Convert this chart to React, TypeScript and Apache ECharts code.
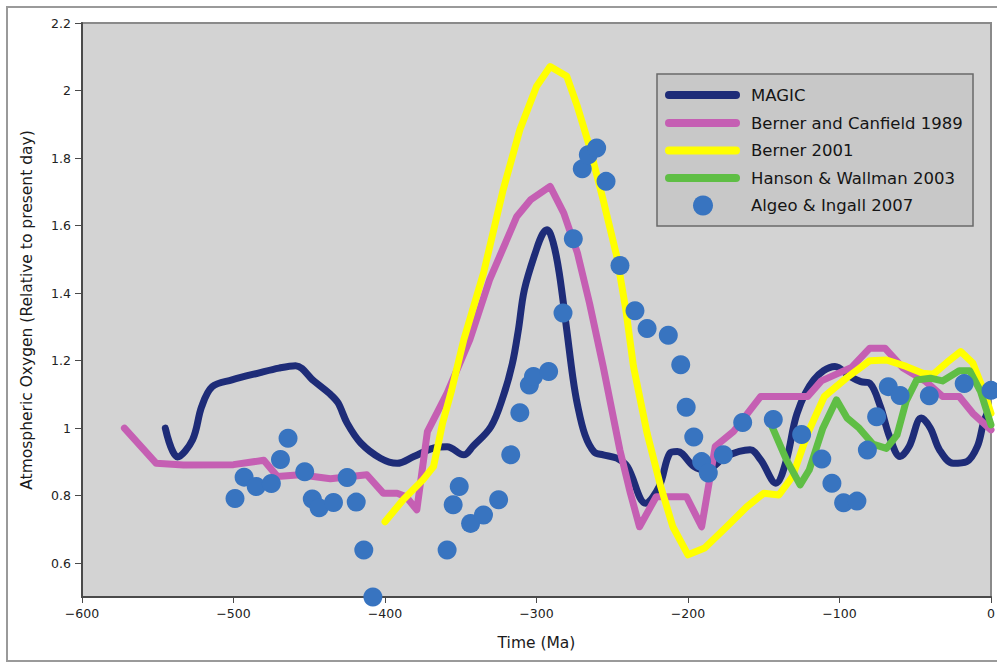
import React, { useEffect, useRef } from "react";
import * as echarts from "echarts";

const magic: [number, number][] = [
  [-545, 1.0], [-537, 0.915], [-527, 0.966], [-521, 1.064], [-514, 1.123], [-501, 1.143],
  [-483, 1.164], [-470, 1.178], [-459, 1.185], [-447, 1.14], [-436, 1.1], [-431, 1.075],
  [-425, 1.015], [-416, 0.956], [-403, 0.911], [-392, 0.896], [-381, 0.916], [-368, 0.941],
  [-359, 0.945], [-348, 0.921], [-342, 0.946], [-330, 1.005], [-322, 1.094], [-316, 1.19],
  [-312, 1.29], [-308, 1.41], [-300, 1.53], [-296, 1.575], [-293, 1.588], [-289, 1.55],
  [-285, 1.46], [-280, 1.29], [-276, 1.15], [-273, 1.07], [-268, 0.98], [-262, 0.93],
  [-256, 0.921], [-247, 0.911], [-240, 0.886], [-228, 0.778], [-219, 0.827], [-212, 0.926],
  [-207, 0.931], [-196, 0.886], [-188, 0.876], [-175, 0.916], [-159, 0.936], [-152, 0.906],
  [-142, 0.837], [-135, 0.906], [-128, 1.044], [-117, 1.143], [-103, 1.183], [-93, 1.153],
  [-86, 1.138], [-80, 1.133], [-73, 1.064], [-67, 0.975], [-60, 0.916], [-54, 0.946],
  [-46, 1.03], [-40, 1.0], [-34, 0.936], [-25, 0.896], [-16, 0.901], [-9, 0.946],
  [-5, 1.015], [-2, 1.05],
];

const bernerCanfield1989: [number, number][] = [
  [-572, 1.0], [-551, 0.896], [-533, 0.891], [-500, 0.892], [-480, 0.905], [-471, 0.857],
  [-456, 0.862], [-436, 0.85], [-412, 0.862], [-401, 0.807], [-392, 0.807], [-386, 0.797],
  [-379, 0.758], [-372, 0.99], [-359, 1.104], [-344, 1.262], [-331, 1.439], [-313, 1.627],
  [-304, 1.676], [-291, 1.716], [-282, 1.637], [-273, 1.519], [-265, 1.37], [-256, 1.183],
  [-245, 0.936], [-238, 0.807], [-232, 0.708], [-221, 0.797], [-201, 0.797], [-191, 0.708],
  [-182, 0.946], [-170, 0.99], [-152, 1.094], [-121, 1.094], [-112, 1.14], [-92, 1.18],
  [-80, 1.237], [-70, 1.237], [-58, 1.178], [-43, 1.138], [-32, 1.094], [-21, 1.094],
  [-12, 1.044], [0, 0.995],
];

const berner2001: [number, number][] = [
  [-400, 0.723], [-388, 0.788], [-375, 0.847], [-368, 0.886], [-362, 1.015], [-356, 1.113],
  [-348, 1.262], [-335, 1.459], [-322, 1.706], [-311, 1.884], [-300, 2.012], [-291, 2.071],
  [-280, 2.042], [-273, 1.953], [-265, 1.834], [-256, 1.676], [-247, 1.509], [-241, 1.35],
  [-236, 1.183], [-227, 0.985], [-218, 0.827], [-210, 0.708], [-200, 0.625], [-189, 0.645],
  [-174, 0.71], [-161, 0.768], [-150, 0.807], [-140, 0.802], [-131, 0.857], [-121, 0.985],
  [-110, 1.094], [-95, 1.15], [-80, 1.2], [-69, 1.202], [-56, 1.183], [-45, 1.163],
  [-38, 1.16], [-29, 1.195], [-20, 1.227], [-12, 1.193], [-5, 1.113], [0, 1.044],
];

const hansonWallman2003: [number, number][] = [
  [-145, 1.01], [-135, 0.906], [-126, 0.832], [-120, 0.876], [-111, 1.0], [-102, 1.084],
  [-95, 1.03], [-87, 1.0], [-78, 0.953], [-69, 0.94], [-62, 0.98], [-56, 1.08],
  [-49, 1.143], [-40, 1.148], [-32, 1.14], [-21, 1.17], [-14, 1.17], [-7, 1.11], [0, 1.01],
];

const algeoIngall2007: [number, number][] = [
  [-499, 0.792], [-493, 0.855], [-485, 0.827], [-475, 0.836], [-469, 0.907], [-464, 0.97],
  [-453, 0.871], [-448, 0.79], [-443.5, 0.764], [-434, 0.78], [-425, 0.854], [-419, 0.781],
  [-414, 0.639], [-408, 0.5], [-359, 0.639], [-355, 0.773], [-351, 0.827], [-343.5, 0.718],
  [-335, 0.743], [-325, 0.788], [-317, 0.921], [-311, 1.046], [-304.7, 1.128], [-302, 1.153],
  [-292, 1.168], [-282.5, 1.341], [-275.7, 1.561], [-269.8, 1.768], [-265.8, 1.81],
  [-260.3, 1.83], [-254.1, 1.731], [-244.9, 1.482], [-235, 1.348], [-227, 1.295],
  [-213, 1.275], [-204.8, 1.188], [-201.2, 1.062], [-196.2, 0.974], [-191, 0.901],
  [-186.6, 0.867], [-176.7, 0.921], [-163.9, 1.017], [-143.7, 1.026], [-125, 0.981],
  [-111.7, 0.909], [-105, 0.837], [-97.3, 0.779], [-88.5, 0.784], [-81.6, 0.935],
  [-75.5, 1.034], [-67.8, 1.123], [-60, 1.097], [-40.7, 1.096], [-17.7, 1.132], [0, 1.112],
];

const yTicks = [0.6, 0.8, 1, 1.2, 1.4, 1.6, 1.8, 2, 2.2];
const seriesNames = [
  "MAGIC",
  "Berner and Canfield 1989",
  "Berner 2001",
  "Hanson & Wallman 2003",
  "Algeo & Ingall 2007",
];
const colors = ["#1e2c78", "#c55fb3", "#ffff00", "#5fbe45", "#3874c0"];

const FONT = "DejaVu Sans";

export default function App() {
  const ref = useRef<HTMLDivElement>(null);
  useEffect(() => {
    if (!ref.current) return;
    const chart = echarts.init(ref.current, null, { renderer: "svg" });
    const lineSeries = (name: string, data: [number, number][], color: string, smooth: number | boolean) => ({
      name,
      type: "line",
      data,
      smooth,
      symbol: "none",
      showSymbol: false,
      clip: false,
      lineStyle: { width: 7, color, cap: "round", join: "round" },
    });
    const legendX = 665;
    const legendRows = [95, 123, 150.5, 178, 205.5];
    const legendGraphics: any[] = [
      {
        type: "rect",
        shape: { x: 657, y: 74, width: 316, height: 152 },
        style: { fill: "#c8c8c8", stroke: "#6a6a6a", lineWidth: 1.5 },
        z: 100,
      },
    ];
    seriesNames.forEach((n, i) => {
      if (i < 4) {
        legendGraphics.push({
          type: "line",
          shape: { x1: legendX + 4, y1: legendRows[i], x2: legendX + 71, y2: legendRows[i] },
          style: { stroke: colors[i], lineWidth: 8, lineCap: "round" },
          z: 101,
        });
      } else {
        legendGraphics.push({
          type: "circle",
          shape: { cx: 703, cy: legendRows[i], r: 10 },
          style: { fill: colors[i] },
          z: 101,
        });
      }
      legendGraphics.push({
        type: "text",
        x: 751,
        y: legendRows[i],
        style: {
          text: n,
          fill: "#151515",
          font: `16.5px '${FONT}'`,
          textVerticalAlign: "middle",
          verticalAlign: "middle",
        },
        z: 101,
      });
    });
    chart.setOption({
      animation: false,
      backgroundColor: "#ffffff",
      textStyle: { fontFamily: FONT },
      grid: {
        left: 82,
        right: 6,
        top: 23,
        bottom: 65,
        show: true,
        backgroundColor: "#d3d3d3",
        borderColor: "#8a8a8a",
        borderWidth: 2,
        containLabel: false,
        outerBoundsMode: "none",
      },
      xAxis: {
        type: "value",
        min: -600,
        max: 0,
        interval: 100,
        name: "Time (Ma)",
        nameLocation: "middle",
        nameGap: 38,
        nameTextStyle: { fontSize: 15.5, color: "#1a1a1a", fontFamily: FONT },
        axisLine: { onZero: false, lineStyle: { color: "#4a4a4a", width: 2 } },
        axisTick: { show: true, length: 6, lineStyle: { color: "#4a4a4a", width: 1 } },
        axisLabel: {
          fontSize: 12.5,
          color: "#222",
          margin: 10,
          fontFamily: FONT,
          formatter: (v: number) => (v < 0 ? "\u2212" + Math.abs(v) : String(v)),
        },
        splitLine: { show: false },
      },
      yAxis: {
        type: "value",
        min: 0.5,
        max: 2.2,
        name: "Atmospheric Oxygen (Relative to present day)",
        nameLocation: "middle",
        nameRotate: 90,
        nameGap: 47,
        nameTextStyle: { fontSize: 15.5, color: "#1a1a1a", fontFamily: FONT },
        axisLine: { onZero: false, lineStyle: { color: "#4a4a4a", width: 2 } },
        axisTick: { show: true, length: 7, customValues: yTicks, lineStyle: { color: "#4a4a4a", width: 1 } },
        axisLabel: {
          fontSize: 12.5,
          color: "#222",
          margin: 11,
          fontFamily: FONT,
          customValues: yTicks,
          formatter: (v: number) => String(+(+v).toFixed(1)),
        },
        splitLine: { show: false },
      },
      series: [
        lineSeries(seriesNames[0], magic, colors[0], 0.35),
        lineSeries(seriesNames[1], bernerCanfield1989, colors[1], false),
        lineSeries(seriesNames[2], berner2001, colors[2], false),
        lineSeries(seriesNames[3], hansonWallman2003, colors[3], false),
        {
          name: seriesNames[4],
          type: "scatter",
          data: algeoIngall2007,
          symbol: "circle",
          symbolSize: 19,
          clip: false,
          itemStyle: { color: colors[4], opacity: 1 },
          z: 5,
        },
      ],
      graphic: [
        {
          type: "rect",
          shape: { x: 7, y: 7, width: 1000, height: 654 },
          style: { fill: "none", stroke: "#9a9a9a", lineWidth: 2 },
          silent: true,
          z: 0,
        },
        ...legendGraphics,
      ],
    });
    return () => chart.dispose();
  }, []);
  return (
    <div
      ref={ref}
      style={{ position: "fixed", left: 0, top: 0, width: 997, height: 662, background: "#fff" }}
    />
  );
}
